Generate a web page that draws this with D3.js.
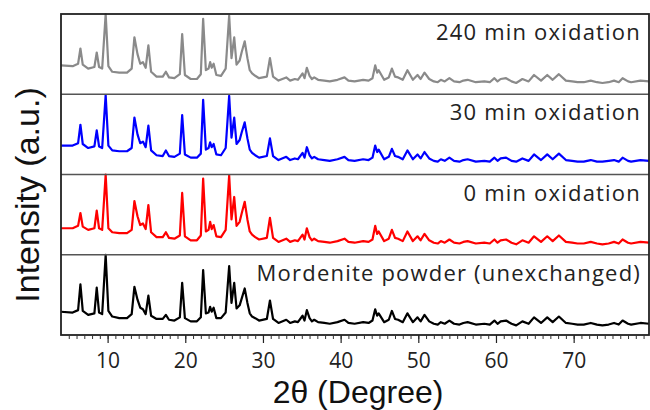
<!DOCTYPE html>
<html>
<head>
<meta charset="utf-8">
<script src="https://cdn.jsdelivr.net/npm/d3@7"></script>
<style>
  body { margin: 0; background: #fff; }
  svg { display: block; }
</style>
</head>
<body>
<svg id="chart" width="650" height="410"></svg>
<script>
// 2theta grid (degrees) where the patterns were read
const twoTheta = [4.0, 5.5, 6.2, 6.5, 6.8, 7.5, 8.3, 8.6, 8.9, 9.3, 9.75, 10.1, 10.6, 11.5, 12.5, 13.1, 13.45, 13.85, 14.2, 14.55,
  14.9, 15.25, 15.6, 16.3, 17.1, 17.5, 17.9, 18.6, 19.3, 19.6, 19.95, 20.7, 21.5, 22.0, 22.3, 22.65, 23.0, 23.2, 23.4, 23.65,
  24.0, 24.6, 25.2, 25.65, 25.95, 26.3, 26.6, 27.0, 27.25, 27.65, 28.0, 28.3, 28.6, 29.0, 29.5, 30.5, 30.9, 31.3, 32.0, 33.0,
  33.5, 34.1, 34.5, 35.1, 35.35, 35.65, 36.0, 36.3, 36.6, 37.1, 37.9, 38.6, 39.6, 40.5, 41.0, 41.8, 42.9, 43.6, 44.1, 44.45,
  44.7, 44.9, 45.6, 46.2, 46.6, 47.0, 47.4, 48.0, 48.6, 49.3, 49.9, 50.3, 50.8, 51.4, 52.0, 52.5, 52.9, 53.4, 54.0, 54.6,
  55.3, 55.8, 56.35, 57.4, 58.5, 59.2, 59.8, 60.2, 60.6, 61.3, 62.0, 62.6, 63.4, 64.2, 64.9, 65.8, 66.6, 67.3, 68.1, 69.0,
  69.8, 70.5, 71.3, 72.2, 73.0, 73.7, 74.5, 75.2, 75.8, 76.3, 77.0, 77.4, 78.6, 79.7];

// intensities in each panel (0 = panel bottom, 100 = panel top)
const ox240 = [36, 35, 38, 57, 37, 32, 34, 52, 34, 32, 100, 35, 28, 27, 27, 32, 71, 50, 38, 40,
  33, 61, 28, 22, 22, 28, 21, 20, 25, 75, 24, 19, 19, 25, 94, 30, 32, 40, 33, 38,
  24, 23, 32, 98, 45, 71, 37, 42, 52, 66, 45, 30, 26, 23, 20, 22, 45, 22, 17, 21,
  17, 19, 18, 26, 20, 33, 23, 19, 21, 18, 17, 16, 18, 21, 17, 16, 18, 17, 20, 36,
  27, 30, 18, 21, 32, 22, 21, 18, 30, 18, 24, 19, 27, 19, 16, 15, 18, 16, 20, 16,
  15, 17, 18, 15, 16, 15, 20, 16, 19, 20, 16, 14, 19, 16, 24, 17, 24, 18, 25, 17,
  16, 15, 15, 17, 15, 14, 15, 17, 15, 20, 16, 15, 17, 16];

const ox30 = [36, 36, 39, 62, 38, 33, 35, 55, 35, 33, 99, 36, 30, 29, 29, 33, 71, 50, 39, 41,
  34, 61, 30, 24, 23, 30, 23, 22, 26, 74, 25, 21, 21, 26, 93, 31, 33, 40, 34, 38,
  25, 24, 33, 98, 46, 71, 38, 43, 52, 65, 45, 31, 27, 24, 21, 23, 45, 23, 18, 22,
  18, 20, 19, 27, 21, 34, 24, 20, 22, 19, 18, 17, 19, 22, 18, 17, 19, 18, 21, 36,
  28, 31, 19, 22, 32, 23, 22, 19, 30, 19, 25, 20, 28, 20, 17, 16, 19, 17, 21, 17,
  16, 18, 19, 16, 17, 16, 21, 17, 20, 21, 17, 16, 20, 17, 25, 18, 25, 19, 26, 18,
  17, 16, 16, 18, 16, 16, 17, 18, 16, 21, 17, 16, 18, 17];

const ox0 = [33, 33, 36, 52, 35, 31, 33, 55, 33, 31, 100, 33, 28, 27, 27, 31, 67, 48, 37, 39,
  32, 62, 28, 22, 22, 28, 21, 20, 24, 77, 23, 18, 18, 24, 95, 29, 31, 41, 32, 37,
  23, 22, 31, 99, 44, 72, 36, 41, 51, 66, 44, 29, 25, 22, 19, 21, 46, 21, 16, 20,
  16, 18, 17, 25, 19, 33, 22, 18, 20, 17, 16, 15, 17, 20, 16, 15, 17, 16, 19, 36,
  26, 29, 17, 20, 31, 21, 20, 17, 29, 17, 23, 18, 26, 18, 15, 14, 17, 15, 19, 15,
  14, 16, 17, 14, 15, 14, 19, 15, 18, 19, 15, 13, 18, 15, 23, 16, 23, 17, 24, 16,
  15, 14, 14, 16, 14, 13, 14, 16, 14, 19, 15, 14, 16, 15];

const unexchanged = [29, 28, 31, 63, 30, 25, 27, 59, 28, 26, 100, 30, 23, 21, 21, 26, 60, 44, 34, 32,
  26, 49, 24, 20, 20, 25, 19, 18, 22, 65, 21, 17, 17, 22, 81, 27, 28, 35, 29, 34,
  21, 21, 28, 86, 40, 65, 33, 37, 45, 58, 40, 27, 23, 21, 18, 20, 43, 20, 15, 19,
  15, 17, 16, 24, 18, 31, 21, 17, 19, 16, 15, 14, 16, 19, 15, 14, 16, 15, 18, 32,
  24, 27, 16, 19, 30, 20, 19, 16, 27, 16, 22, 17, 25, 17, 14, 13, 16, 14, 18, 14,
  13, 15, 16, 13, 14, 13, 18, 14, 17, 18, 14, 12, 17, 14, 22, 15, 22, 16, 23, 15,
  14, 13, 13, 15, 13, 12, 13, 15, 13, 18, 14, 13, 15, 14];

const labels = ['240 min oxidation', '30 min oxidation', '0 min oxidation', 'Mordenite powder (unexchanged)'];
const colors = ['#8a8a8a', '#0000ff', '#ff0000', '#000000'];
const series = [ox240, ox30, ox0, unexchanged];
const majorTicks = [10, 20, 30, 40, 50, 60, 70];

const margin = {top: 14, right: 1, bottom: 75, left: 61};
const width = 650 - margin.left - margin.right;
const height = 410 - margin.top - margin.bottom;
const panelH = height / series.length;

const svg = d3.select('#chart');
const g = svg.append('g')
    .attr('transform', 'translate(' + margin.left + ',' + margin.top + ')');

const x = d3.scaleLinear()
    .domain([4, 79.7])
    .range([0, width]);

// traces, one panel each
series.forEach(function(vals, i) {
    const y = d3.scaleLinear()
        .domain([0, 100])
        .range([(i + 1) * panelH, i * panelH]);

    g.append('path')
        .datum(vals)
        .attr('fill', 'none')
        .attr('stroke', colors[i])
        .attr('stroke-width', 2.2)
        .attr('stroke-linejoin', 'round')
        .attr('d', d3.line()
            .x(function(d, j) { return x(twoTheta[j]); })
            .y(function(d) { return y(d); }));

    g.append('text')
        .attr('x', width - 8)
        .attr('y', i * panelH + 26)
        .attr('text-anchor', 'end')
        .attr('font-family', 'Open Sans')
        .attr('font-size', '22px')
        .attr('letter-spacing', '1.2px')
        .attr('fill', '#222')
        .text(labels[i]);
});

// panel separators
for (let i = 1; i < series.length; i++) {
    g.append('line')
        .attr('x1', 0).attr('x2', width)
        .attr('y1', i * panelH).attr('y2', i * panelH)
        .attr('stroke', '#555')
        .attr('stroke-width', 1.5);
}

// frame
g.append('rect')
    .attr('x', 0).attr('y', 0)
    .attr('width', width).attr('height', height)
    .attr('fill', 'none')
    .attr('stroke', '#222')
    .attr('stroke-width', 1.8);

// minor ticks
const minor = g.append('g')
    .attr('transform', 'translate(0,' + height + ')')
    .call(d3.axisBottom(x).tickValues(d3.range(5, 80, 1)).tickSize(4).tickFormat(''));
minor.select('.domain').remove();
minor.selectAll('line').attr('stroke', '#333');

// major ticks + labels
const major = g.append('g')
    .attr('transform', 'translate(0,' + height + ')')
    .call(d3.axisBottom(x).tickValues(majorTicks).tickSize(8).tickPadding(10));
major.select('.domain').remove();
major.selectAll('line').attr('stroke', '#222').attr('stroke-width', 1.2);
major.selectAll('text')
    .attr('font-family', 'Open Sans')
    .attr('font-size', '21px')
    .attr('fill', '#222');

// axis titles
svg.append('text')
    .attr('x', 358)
    .attr('y', 403)
    .attr('text-anchor', 'middle')
    .attr('font-family', 'Liberation Sans')
    .attr('font-size', '32px')
    .attr('fill', '#111')
    .text('2θ (Degree)');

svg.append('text')
    .attr('transform', 'translate(39,195) rotate(-90)')
    .attr('text-anchor', 'middle')
    .attr('font-family', 'Liberation Sans')
    .attr('font-size', '34px')
    .attr('fill', '#111')
    .text('Intensity (a.u.)');
</script>
</body>
</html>
